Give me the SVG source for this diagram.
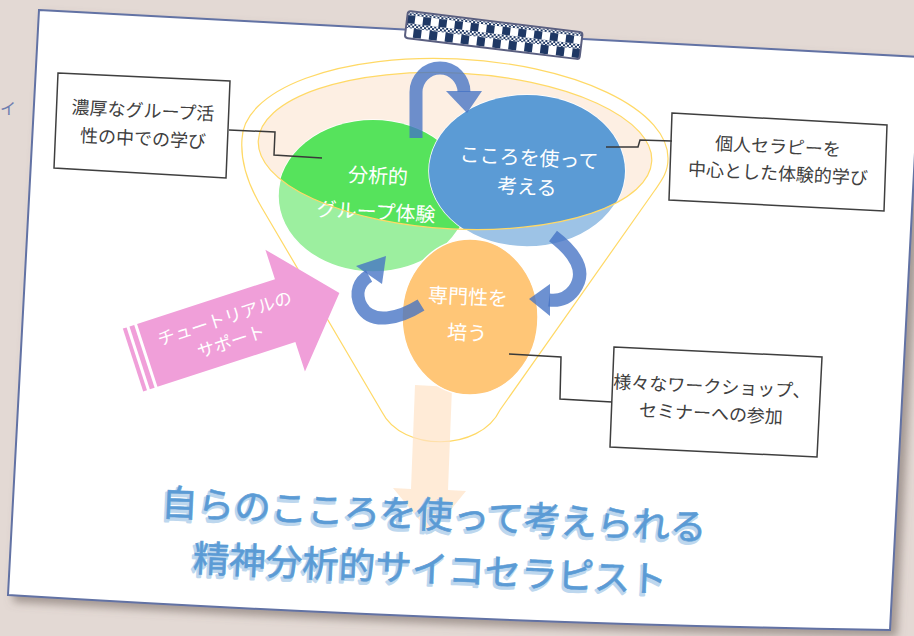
<svg xmlns="http://www.w3.org/2000/svg" width="914" height="636" viewBox="0 0 914 636">
<defs>
<style>
.jp{font-family:"Noto Sans CJK JP","Noto Sans CJK SC",sans-serif;}
.box{fill:#fff;stroke:#3f3f3f;stroke-width:1.5;}
.lbl{font-size:18px;fill:#404040;text-anchor:middle;}
.wt{font-size:20px;fill:#fff;text-anchor:middle;}
.conn{fill:none;stroke:#3a3a3a;stroke-width:1.5;}
.funnel{fill:none;stroke:#FFD966;stroke-width:1.2;}
.carr{fill:none;stroke:#4472C4;stroke-width:13;stroke-opacity:.78;}
.chead{fill:#4472C4;fill-opacity:.78;}
.title{font-size:36.5px;font-weight:400;text-anchor:middle;}
.tsh{fill:#BDD7EE;stroke:#BDD7EE;stroke-width:2.5;stroke-linejoin:round;}
.tmain{fill:#5B9BD5;stroke:#5B9BD5;stroke-width:0.6;}
</style>
<filter id="sh" x="-5%" y="-5%" width="115%" height="115%">
<feDropShadow dx="6" dy="6" stdDeviation="4" flood-color="#6e625d" flood-opacity="0.55"/>
</filter>
<clipPath id="mouth"><ellipse cx="455" cy="151" rx="197" ry="78" transform="rotate(3 455 151)"/></clipPath>
<pattern id="bigA" width="16" height="40" patternUnits="userSpaceOnUse"><rect x="0" y="0" width="8" height="40" fill="#1F3864"/></pattern>
<pattern id="bigB" width="16" height="40" patternUnits="userSpaceOnUse"><rect x="8" y="0" width="8" height="40" fill="#1F3864"/></pattern>
<pattern id="fine" width="4" height="4" patternUnits="userSpaceOnUse"><rect x="0" y="0" width="2" height="2" fill="#1F3864"/><rect x="2" y="2" width="2" height="2" fill="#1F3864"/></pattern>
</defs>

<rect x="0" y="0" width="914" height="636" fill="#E3D9D4"/>
<text class="jp" x="0" y="114" font-size="16" fill="#6E7DB0">イ</text>

<!-- card -->
<path id="card" d="M39,10 L920,57 L890,630 Q471,623.5 8,595 Z" fill="#fff" stroke="#6272A4" stroke-width="2" filter="url(#sh)"/>

<!-- tape -->
<g id="tape" transform="translate(408,11) rotate(7)">
<rect x="0" y="0" width="176" height="27" fill="#fff"/>
<rect x="0" y="1" width="176" height="3" fill="url(#fine)"/>
<rect x="0" y="4" width="176" height="8" fill="url(#bigA)"/>
<rect x="0" y="12" width="176" height="5" fill="url(#fine)"/>
<rect x="0" y="17" width="176" height="9" fill="url(#bigB)"/>
<rect x="0" y="0" width="176" height="27" rx="3" fill="none" stroke="#5A5F80" stroke-width="2"/>
</g>

<!-- funnel -->
<g id="funnel">
<path class="funnel" d="M262,208 C250,188 240,165 242,139 A213,90 3 0 1 668,159 C668,172 662,180 655,190 L500,410 C480,452 402,452 382,412 Z"/>
<ellipse cx="455" cy="151" rx="197" ry="78" transform="rotate(3 455 151)" fill="#FCE4D0" fill-opacity="0.6"/>
</g>

<!-- down arrow -->
<polygon id="down-arrow" points="415,385 452,387 448,490 466,491 431,534 393,488 411,489" fill="#FFE3C6" fill-opacity="0.7"/>

<!-- green -->
<g id="node-group">
<ellipse cx="373" cy="196" rx="95" ry="76" fill="#9CEF9F" stroke="#fff" stroke-width="1.5"/>
<ellipse cx="373" cy="196" rx="95" ry="76" fill="#56E35C" clip-path="url(#mouth)"/>
<text class="jp wt" x="378" y="183" transform="rotate(3 378 176)">分析的</text>
<text class="jp wt" x="376" y="219" transform="rotate(3 376 212)">グループ体験</text>
</g>

<!-- blue -->
<g id="node-kokoro">
<ellipse cx="527" cy="171" rx="98" ry="76" fill="#9DC3E6" stroke="#fff" stroke-width="1.5"/>
<ellipse cx="527" cy="171" rx="98" ry="76" fill="#5B9BD5" clip-path="url(#mouth)"/>
<text class="jp wt" x="529" y="165" transform="rotate(3 529 158)">こころを使って</text>
<text class="jp wt" x="527" y="194" transform="rotate(3 527 187)">考える</text>
</g>

<ellipse cx="455" cy="151" rx="197" ry="78" transform="rotate(3 455 151)" fill="none" stroke="#FFD966" stroke-width="1.2"/>

<!-- orange -->
<g id="node-senmon">
<ellipse cx="470" cy="317" rx="68" ry="78" fill="#FFC677" stroke="#fff" stroke-width="1.5"/>
<text class="jp wt" x="468" y="304" transform="rotate(3 468 297)">専門性を</text>
<text class="jp wt" x="467" y="340" transform="rotate(3 467 333)">培う</text>
</g>

<!-- pink arrow -->
<g id="node-tutorial" transform="translate(133,360) rotate(-18)">
<rect x="0" y="-33" width="4" height="66" fill="#F09FD9"/>
<rect x="7" y="-33" width="5" height="66" fill="#F09FD9"/>
<polygon points="15,-33 160,-33 160,-64 217,0 160,64 160,33 15,33" fill="#F09FD9"/>
<text class="jp" x="100" y="-5" font-size="17.5" fill="#fff" text-anchor="middle">チュートリアルの</text>
<text class="jp" x="99" y="19" font-size="17.5" fill="#fff" text-anchor="middle">サポート</text>
</g>

<!-- callouts -->
<g id="box-noukou">
<polygon class="box" points="58,73 230,81 226,178 54,168"/>
<text class="jp lbl" x="143" y="117" transform="rotate(2.8 143 110)">濃厚なグループ活</text>
<text class="jp lbl" x="143" y="145" transform="rotate(2.8 143 138)">性の中での学び</text>
</g>
<g id="box-kojin">
<polygon class="box" points="672,113 887,125 884,211 669,200"/>
<text class="jp lbl" x="778" y="153" transform="rotate(3 778 146)">個人セラピーを</text>
<text class="jp lbl" x="778" y="180" transform="rotate(3 778 173)">中心とした体験的学び</text>
</g>
<g id="box-workshop">
<polygon class="box" points="614,347 822,357 817,457 610,447"/>
<text class="jp lbl" x="712" y="393" font-size="17.5" transform="rotate(2.8 712 386)">様々なワークショップ、</text>
<text class="jp lbl" x="711" y="420" font-size="17.5" transform="rotate(2.8 711 413)">セミナーへの参加</text>
</g>

<g id="connectors">
<path class="conn" d="M229,130 L275,132 L274,155 L322,158"/>
<path class="conn" d="M672,141 L640,140 L638,147 L606,147"/>
<path class="conn" d="M509,354 L561,357 L560,399 L612,402"/>
<!-- cycle arrows -->
<path class="carr" d="M416,138 L416,92 A24,24 0 0 1 464,92"/>
<polygon class="chead" points="446,91 482,91 467,113"/>
<path class="carr" d="M553,236 Q592,266 574,290 Q565,302 549,300"/>
<polygon class="chead" points="550,284 550,316 529,299"/>
<path class="carr" d="M421,305 C400,318 372,326 361,306 C354,292 360,281 369,276"/>
<polygon class="chead" points="356,266 382,284 386,256"/>
</g>

<!-- title -->
<g id="title">
<text class="jp title tsh" x="432.5" y="530.5" transform="rotate(2.6 434 515)">自らのこころを使って考えられる</text>
<text class="jp title tmain" x="434" y="528" transform="rotate(2.6 434 515)">自らのこころを使って考えられる</text>
<text class="jp title tsh" x="428.5" y="584.5" transform="rotate(2.6 430 569)">精神分析的サイコセラピスト</text>
<text class="jp title tmain" x="430" y="582" transform="rotate(2.6 430 569)">精神分析的サイコセラピスト</text>
</g>
</svg>
